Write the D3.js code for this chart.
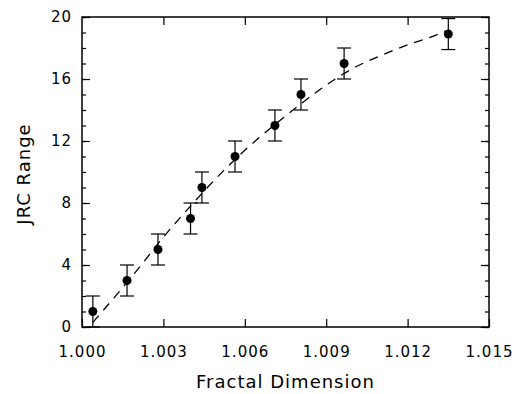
<!DOCTYPE html>
<html>
<head>
<meta charset="utf-8">
<script src="https://cdn.jsdelivr.net/npm/d3@7"></script>
<style>
  body { margin: 0; background: #fff; }
  text { font-family: "DejaVu Sans", sans-serif; fill: #000; }
</style>
</head>
<body>
<script>
// measured points
var fractalDim = [1.0004, 1.00166, 1.0028, 1.0040, 1.00442, 1.00564, 1.00711, 1.00807, 1.00966, 1.0135];
var jrcValue = [1, 3, 5, 7, 9, 11, 13, 15, 17, 18.9];
var errLow = [0, 2, 4, 6, 8, 10, 12, 14, 16, 17.9];
var errHigh = [2, 4, 6, 8, 10, 12, 14, 16, 18, 19.9];

// fitted curve (dashed)
var fitX = [1.0004, 1.002, 1.003, 1.004, 1.005, 1.006, 1.007, 1.008, 1.009, 1.010, 1.011, 1.012, 1.013, 1.0134];
var fitY = [0.3, 3.6, 5.8, 7.8, 9.7, 11.4, 12.9, 14.3, 15.6, 16.7, 17.5, 18.2, 18.8, 19.1];

// tick labels
var xTicks = [1.000, 1.003, 1.006, 1.009, 1.012, 1.015];
var yTicks = [0, 4, 8, 12, 16, 20];
var yMinor = d3.range(0, 21, 1);

var W = 517, H = 394;
var margin = { top: 17, right: 28, bottom: 67, left: 82 },
  width = W - margin.left - margin.right,
  height = H - margin.top - margin.bottom;

var svg = d3.select("body").append("svg")
  .attr("width", W)
  .attr("height", H);

var g = svg.append("g")
  .attr("transform", "translate(" + margin.left + "," + margin.top + ")");

// set the ranges
var x = d3.scaleLinear().domain([1.000, 1.015]).range([0, width]);
var y = d3.scaleLinear().domain([0, 20]).range([height, 0]);

function styleAxis(sel) {
  sel.select(".domain").remove();
  sel.selectAll("line").attr("stroke", "#000").attr("stroke-width", 1.2);
  sel.selectAll("text")
    .style("font-size", "15px")
    .style("letter-spacing", "1px");
}

// bottom axis, ticks pointing in
g.append("g")
  .attr("transform", "translate(0," + height + ")")
  .call(d3.axisBottom(x).tickValues(xTicks).tickFormat(d3.format(".3f"))
    .tickSizeInner(-8).tickSizeOuter(0).tickPadding(19))
  .call(styleAxis);

// top axis
g.append("g")
  .call(d3.axisTop(x).tickValues(xTicks.slice(1, -1)).tickSizeInner(-8).tickSizeOuter(0).tickFormat(""))
  .call(styleAxis);

// left axis minor + major
g.append("g")
  .call(d3.axisLeft(y).tickValues(yMinor).tickSizeInner(-4).tickSizeOuter(0).tickFormat(""))
  .call(styleAxis);
g.append("g")
  .call(d3.axisLeft(y).tickValues(yTicks).tickSizeInner(-8).tickSizeOuter(0).tickPadding(10))
  .call(styleAxis);

// right axis minor + major
g.append("g")
  .attr("transform", "translate(" + width + ",0)")
  .call(d3.axisRight(y).tickValues(yMinor).tickSizeInner(-4).tickSizeOuter(0).tickFormat(""))
  .call(styleAxis);
g.append("g")
  .attr("transform", "translate(" + width + ",0)")
  .call(d3.axisRight(y).tickValues(yTicks).tickSizeInner(-8).tickSizeOuter(0).tickFormat(""))
  .call(styleAxis);

// frame
g.append("rect")
  .attr("width", width)
  .attr("height", height)
  .attr("fill", "none")
  .attr("stroke", "#000")
  .attr("stroke-width", 1.5);

// fitted dashed line
var fit = fitX.map(function (d, i) { return [d, fitY[i]]; });
var line = d3.line()
  .x(function (d) { return x(d[0]); })
  .y(function (d) { return y(d[1]); })
  .curve(d3.curveMonotoneX);

g.append("path")
  .datum(fit)
  .attr("d", line)
  .attr("fill", "none")
  .attr("stroke", "#000")
  .attr("stroke-width", 1.3)
  .attr("stroke-dasharray", "9,7");

// error bars
var pts = fractalDim.map(function (d, i) {
  return { x: d, y: jrcValue[i], lo: errLow[i], hi: errHigh[i] };
});
var cap = 7;

var eb = g.append("g").attr("stroke", "#000").attr("stroke-width", 1.2);
eb.selectAll(".stem").data(pts).enter().append("line")
  .attr("x1", function (d) { return x(d.x); })
  .attr("x2", function (d) { return x(d.x); })
  .attr("y1", function (d) { return y(d.lo); })
  .attr("y2", function (d) { return y(d.hi); });
eb.selectAll(".top").data(pts).enter().append("line")
  .attr("x1", function (d) { return x(d.x) - cap; })
  .attr("x2", function (d) { return x(d.x) + cap; })
  .attr("y1", function (d) { return y(d.hi); })
  .attr("y2", function (d) { return y(d.hi); });
eb.selectAll(".bot").data(pts).enter().append("line")
  .attr("x1", function (d) { return x(d.x) - cap; })
  .attr("x2", function (d) { return x(d.x) + cap; })
  .attr("y1", function (d) { return y(d.lo); })
  .attr("y2", function (d) { return y(d.lo); });

// points
g.selectAll(".dot").data(pts).enter().append("circle")
  .attr("cx", function (d) { return x(d.x); })
  .attr("cy", function (d) { return y(d.y); })
  .attr("r", 4.5)
  .attr("fill", "#000");

// axis titles
svg.append("text")
  .attr("x", margin.left + width / 2)
  .attr("y", 388)
  .attr("text-anchor", "middle")
  .style("font-size", "18px")
  .style("letter-spacing", "1px")
  .text("Fractal Dimension");

svg.append("text")
  .attr("transform", "translate(30," + (margin.top + height / 2 + 2) + ") rotate(-90)")
  .attr("text-anchor", "middle")
  .style("font-size", "18px")
  .style("letter-spacing", "1px")
  .text("JRC Range");
</script>
</body>
</html>
